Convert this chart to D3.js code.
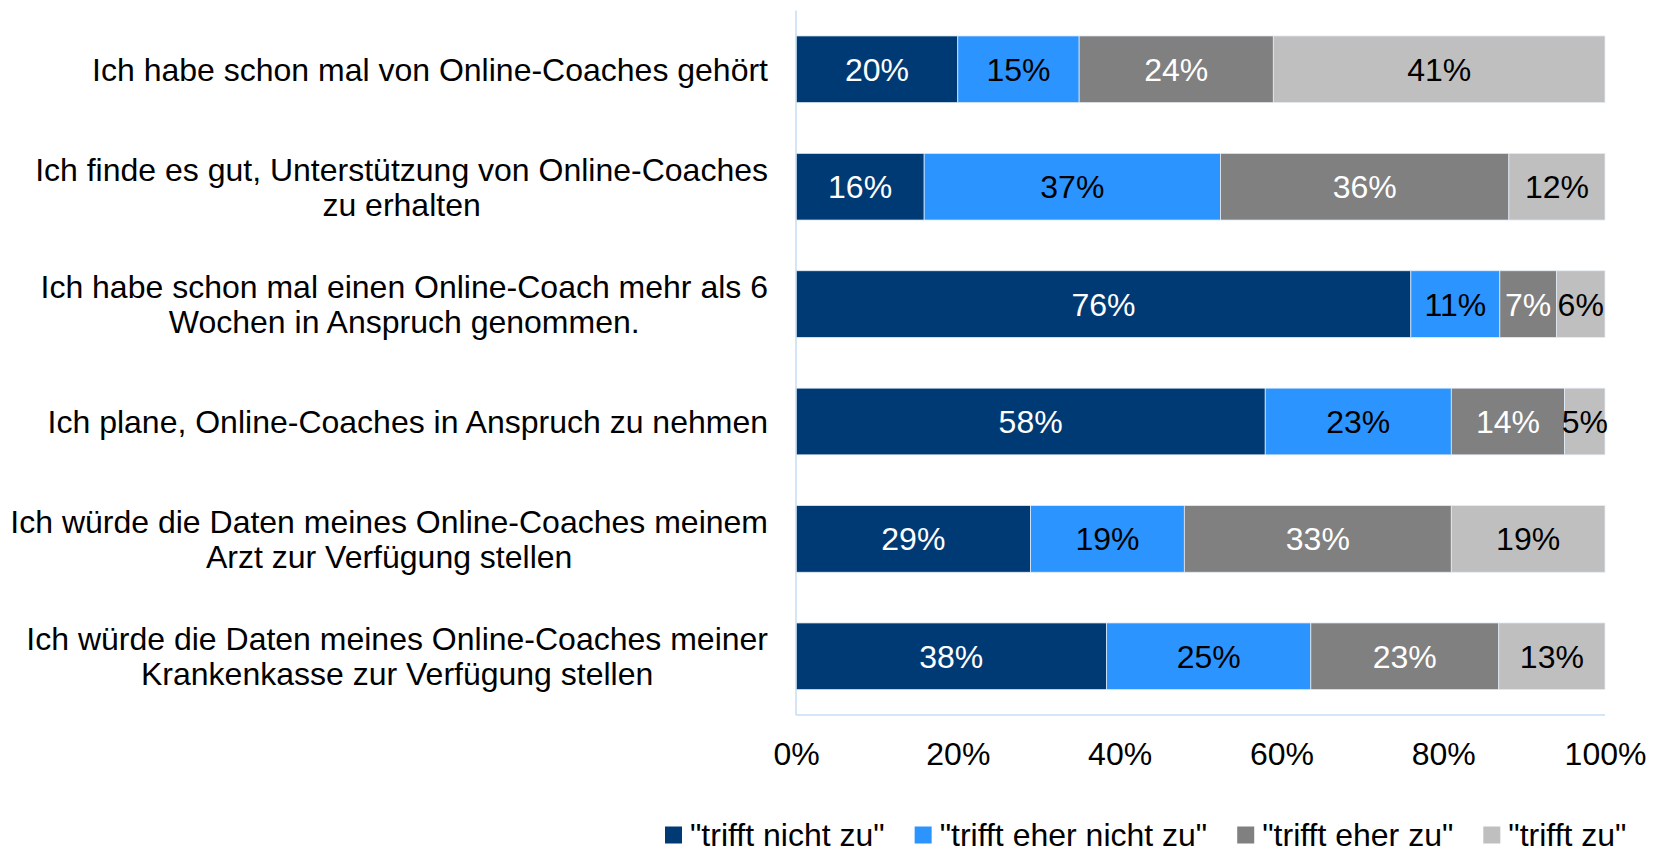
<!DOCTYPE html>
<html>
<head>
<meta charset="utf-8">
<script src="https://cdn.jsdelivr.net/npm/d3@7"></script>
<style>
  body { margin: 0; background: #fff; }
  svg text { font-family: "Liberation Sans", Arial, sans-serif; }
</style>
</head>
<body>
<div id="chart"></div>
<script>
// Survey statements (line breaks as in the original)
var categories = [
  'Ich habe schon mal von Online-Coaches gehört',
  'Ich finde es gut, Unterstützung von Online-Coaches\nzu erhalten',
  'Ich habe schon mal einen Online-Coach mehr als 6\nWochen in Anspruch genommen.',
  'Ich plane, Online-Coaches in Anspruch zu nehmen',
  'Ich würde die Daten meines Online-Coaches meinem\nArzt zur Verfügung stellen',
  'Ich würde die Daten meines Online-Coaches meiner\nKrankenkasse zur Verfügung stellen'
]

// Answer categories
var seriesNames = ['"trifft nicht zu"', '"trifft eher nicht zu"', '"trifft eher zu"', '"trifft zu"']

// Percent values per series, one entry per statement
var nichtZu     = [20, 16, 76, 58, 29, 38]
var eherNichtZu = [15, 37, 11, 23, 19, 25]
var eherZu      = [24, 36,  7, 14, 33, 23]
var trifftZu    = [41, 12,  6,  5, 19, 13]

var xTicks = [0, 0.2, 0.4, 0.6, 0.8, 1]

var colors = ['#003a75', '#2c94ff', '#808080', '#bfbfbf']
var labelColors = ['#fff', '#000', '#fff', '#000']

var W = 1661, H = 846
var fontSize = 32

// Build rows for d3.stack
var rows = categories.map(function(c, i) {
  return {cat: c, s0: nichtZu[i], s1: eherNichtZu[i], s2: eherZu[i], s3: trifftZu[i]}
})
var keys = ['s0', 's1', 's2', 's3']
var stacked = d3.stack().keys(keys).offset(d3.stackOffsetExpand)(rows)

var svg = d3.select('#chart').append('svg')
  .attr('width', W)
  .attr('height', H)

// Plot area
var p_left = 796, p_right = 1605, p_top = 10.6, p_bottom = 715

var x = d3.scaleLinear().domain([0, 1]).range([p_left, p_right])
var y = d3.scaleBand()
  .domain(categories)
  .range([p_top, p_bottom])
  .paddingInner(0.432)
  .paddingOuter(0.216)

// Bars
var groups = svg.append('g').selectAll('g')
  .data(stacked)
  .join('g')
    .attr('fill', function(d, i) { return colors[i] })

groups.selectAll('rect')
  .data(function(d) { return d })
  .join('rect')
    .attr('x', function(d) { return x(d[0]) })
    .attr('width', function(d) { return x(d[1]) - x(d[0]) })
    .attr('y', function(d) { return y(d.data.cat) })
    .attr('height', y.bandwidth())
    .attr('stroke', '#e4edf7')
    .attr('stroke-width', 0.75)

// Segment labels
groups.each(function(s, si) {
  d3.select(this).selectAll('text')
    .data(s)
    .join('text')
      .attr('x', function(d) { return (x(d[0]) + x(d[1])) / 2 })
      .attr('y', function(d) { return y(d.data.cat) + y.bandwidth() / 2 })
      .attr('dy', '0.36em')
      .attr('text-anchor', 'middle')
      .attr('font-size', fontSize)
      .attr('fill', labelColors[si])
      .text(function(d) { return d.data[s.key] + '%' })
})

// Axis lines (cosmetic)
svg.append('line')
  .attr('x1', p_left).attr('x2', p_left)
  .attr('y1', p_top).attr('y2', p_bottom)
  .attr('stroke', '#c6dcf2').attr('stroke-width', 1.5)

svg.append('line')
  .attr('x1', p_left).attr('x2', p_right)
  .attr('y1', p_bottom).attr('y2', p_bottom)
  .attr('stroke', '#c6dcf2').attr('stroke-width', 1.5)

// X axis tick labels
var xAxis = d3.axisBottom(x)
  .tickValues(xTicks)
  .tickFormat(d3.format('.0%'))
  .tickSize(0)
  .tickPadding(0)

var xg = svg.append('g')
  .attr('transform', 'translate(0,' + 742 + ')')
  .call(xAxis)
xg.select('.domain').remove()
xg.selectAll('text')
  .attr('font-size', fontSize)
  .attr('font-family', '"Liberation Sans", Arial, sans-serif')
  .attr('fill', '#000')

// Category labels, lines centred within a right-aligned block
var labelRight = 768
var lineH = 35
var lab = svg.append('g')
categories.forEach(function(c) {
  var lines = c.split('\n')
  var cy = y(c) + y.bandwidth() / 2
  var t = lab.append('text')
    .attr('font-size', fontSize)
    .attr('fill', '#000')
  lines.forEach(function(l, i) {
    t.append('tspan')
      .attr('y', cy + (i - (lines.length - 1) / 2) * lineH)
      .attr('dy', '0.36em')
      .text(l)
  })
  var maxW = d3.max(t.selectAll('tspan').nodes(), function(n) { return n.getComputedTextLength() })
  t.attr('text-anchor', 'middle')
  t.selectAll('tspan').attr('x', labelRight - maxW / 2)
})

// Legend (bottom edge clipped as in the original)
var legend = svg.append('g')
var lx = 665, ly = 835
seriesNames.forEach(function(name, i) {
  legend.append('rect')
    .attr('x', lx).attr('y', ly - 8.5)
    .attr('width', 17).attr('height', 17)
    .attr('fill', colors[i])
  var t = legend.append('text')
    .attr('x', lx + 25).attr('y', ly - 1)
    .attr('dy', '0.36em')
    .attr('font-size', fontSize)
    .attr('fill', '#000')
    .text(name)
  lx += 25 + t.node().getComputedTextLength() + 30
})
</script>
</body>
</html>
